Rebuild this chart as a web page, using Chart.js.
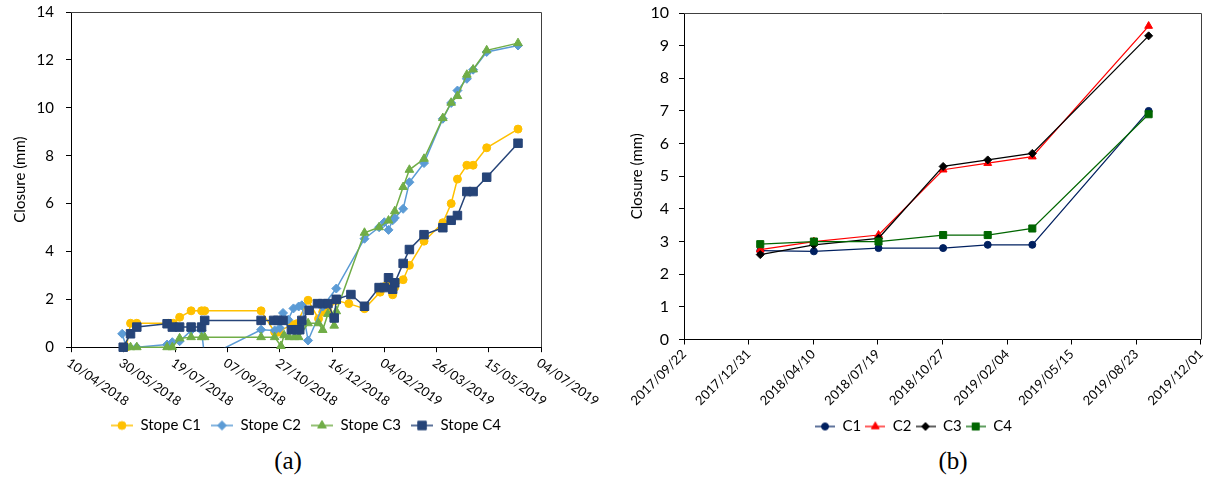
<!DOCTYPE html>
<html><head><meta charset="utf-8">
<script src="https://cdn.jsdelivr.net/npm/chart.js@4.4.1/dist/chart.umd.min.js"></script>
<style>
html,body{margin:0;padding:0;background:#fff;width:1214px;height:484px;overflow:hidden;}
#ca{position:absolute;left:0;top:0;}
#cb{position:absolute;left:607px;top:0;}
.cap{position:absolute;top:447px;font-family:'Liberation Serif','Times New Roman',serif;font-size:25px;color:#000;width:100px;text-align:center;}
</style></head><body>
<canvas id="ca" width="600" height="443"></canvas>
<canvas id="cb" width="607" height="444"></canvas>
<div class="cap" style="left:238px">(a)</div>
<div class="cap" style="left:903px">(b)</div>
<script>
// ---------- Panel (a): days counted from 10/04/2018 ----------
const tickLabelsA = ['10/04/2018','30/05/2018','19/07/2018','07/09/2018','27/10/2018','16/12/2018','04/02/2019','26/03/2019','15/05/2019','04/07/2019'];
const seriesNamesA = ['Stope C1','Stope C2','Stope C3','Stope C4'];

const daysC1 = [53,57,63,93,98,104,115,125,128,182,195,199,211,216,227,237,241,246,254,266,281,296,301,304,308,310,318,324,338,356,364,370,379,385,398,428];
const valsC1 = [0,1.0,1.0,1.0,1.0,1.25,1.52,1.52,1.52,1.52,0.63,0.63,0.95,0.98,1.96,1.19,1.47,1.5,1.95,1.82,1.61,2.3,2.55,2.6,2.19,2.5,2.82,3.42,4.43,5.2,6.0,7.02,7.6,7.6,8.33,9.11];

const daysC2 = [49,53,63,92,97,104,115,125,128,182,195,200,203,208,213,218,221,227,241,254,281,295,300,304,308,310,318,324,338,356,364,370,379,385,398,428];
const valsC2 = [0.56,0,0,0.11,0.21,0.25,0.7,0.7,-0.45,0.73,0.7,0.8,1.43,1.15,1.62,1.7,1.75,0.28,1.7,2.45,4.53,5.01,5.22,4.9,5.3,5.4,5.78,6.89,7.69,9.54,10.2,10.72,11.21,11.59,12.33,12.6];

const daysC3 = [53,57,63,92,97,104,115,125,128,182,195,201,204,209,214,218,227,237,241,246,252,254,281,295,304,310,318,324,338,356,364,370,379,385,398,428];
const valsC3 = [0,0,0,0,0,0.37,0.42,0.42,0.42,0.42,0.42,0.05,0.5,0.42,0.42,0.42,1.0,1.0,0.72,1.39,0.9,1.5,4.78,5.01,5.29,5.68,6.69,7.41,7.87,9.57,10.21,10.49,11.38,11.6,12.4,12.7];

const daysC4 = [50,57,63,92,97,104,115,125,128,182,194,198,203,211,216,219,221,228,236,241,246,252,254,268,281,295,300,304,308,310,318,324,338,356,364,370,379,385,398,428];
const valsC4 = [0,0.56,0.84,0.98,0.84,0.84,0.84,0.84,1.12,1.12,1.12,1.12,1.12,0.73,0.73,0.73,1.12,1.54,1.82,1.82,1.82,1.22,2.0,2.2,1.71,2.49,2.49,2.9,2.42,2.69,3.5,4.08,4.7,4.99,5.3,5.5,6.5,6.5,7.1,8.52];

// ---------- Panel (b): days counted from 2017/09/22 ----------
const tickLabelsB = ['2017/09/22','2017/12/31','2018/04/10','2018/07/19','2018/10/27','2019/02/04','2019/05/15','2019/08/23','2019/12/01'];
const seriesNamesB = ['C1','C2','C3','C4'];
const daysB = [118,201,301,401,470,539,719];
const valsB1 = [2.72,2.7,2.8,2.8,2.9,2.9,7.0];
const valsB2 = [2.75,3.0,3.2,5.2,5.4,5.6,9.6];
const valsB3 = [2.6,2.9,3.1,5.3,5.5,5.7,9.3];
const valsB4 = [2.92,3.0,3.0,3.2,3.2,3.4,6.9];

Chart.defaults.font.family = 'Lato';
Chart.defaults.color = '#000';

function pts(d, v){ return d.map((x,i)=>({x:x, y:v[i]})); }

function icon(color, style, r, lw, w){
  const c = document.createElement('canvas');
  c.width = w; c.height = 14;
  const ctx = c.getContext('2d');
  ctx.strokeStyle = color; ctx.lineWidth = lw;
  ctx.beginPath(); ctx.moveTo(0,7); ctx.lineTo(w,7); ctx.stroke();
  ctx.fillStyle = color; ctx.lineWidth = 1;
  Chart.helpers.drawPoint(ctx, {pointStyle: style, radius: r, borderWidth: 1, rotation: 0}, w/2, 7);
  return c;
}

const boxPlugin = {
  id: 'box',
  beforeDatasetsDraw(chart){
    const a = chart.chartArea, ctx = chart.ctx;
    ctx.save();
    ctx.strokeStyle = '#404040'; ctx.lineWidth = 1;
    ctx.beginPath();
    ctx.moveTo(a.left, Math.round(a.top)+0.5);
    ctx.lineTo(Math.round(a.right)+0.5, Math.round(a.top)+0.5);
    ctx.lineTo(Math.round(a.right)+0.5, a.bottom);
    ctx.stroke();
    ctx.restore();
  }
};

const rotLabelsA = {
  id: 'rotLabelsA',
  afterDraw(chart){
    const s = chart.scales.x, ctx = chart.ctx;
    ctx.save();
    ctx.font = '13px Lato'; ctx.fillStyle = '#000';
    ctx.textAlign = 'left'; ctx.textBaseline = 'top';
    s.ticks.forEach((t, i) => {
      const x = s.getPixelForValue(t.value);
      ctx.save();
      ctx.translate(x + 1, s.top + 9);
      ctx.rotate(35 * Math.PI / 180);
      ctx.fillText(tickLabelsA[i], 0, 0);
      ctx.restore();
    });
    ctx.restore();
  }
};

function legendOpts(pad, psw, full){
  return {
    position: 'bottom', fullSize: full,
    labels: {
      usePointStyle: true, pointStyleWidth: psw, padding: pad,
      font: {size: 15},
      generateLabels(chart){
        return chart.data.datasets.map((ds, i) => ({
          text: ds.label, pointStyle: ds.legendIcon, datasetIndex: i,
          hidden: false, lineWidth: 0, strokeStyle: 'transparent', fillStyle: 'transparent', fontColor: '#000'
        }));
      }
    }
  };
}

// ----- Chart (a) -----
const stA = [
  {c:'#FFC000', s:'circle', r:4},
  {c:'#5B9BD5', s:'rectRot', r:4.5},
  {c:'#70AD47', s:'triangle', r:5},
  {c:'#264478', s:'rect', r:6}
];
const dataA = [pts(daysC1,valsC1), pts(daysC2,valsC2), pts(daysC3,valsC3), pts(daysC4,valsC4)];
new Chart(document.getElementById('ca'), {
  type: 'line',
  data: {
    datasets: dataA.map((d,i) => ({
      label: seriesNamesA[i], data: d,
      borderColor: stA[i].c, backgroundColor: stA[i].c,
      borderWidth: 1.5, pointStyle: stA[i].s, pointRadius: stA[i].r,
      pointBorderWidth: 1, pointBorderColor: stA[i].c, pointBackgroundColor: stA[i].c,
      tension: 0, order: 4 - i,
      clip: i === 1 ? {left:10, right:10, top:10, bottom:0} : {left:10, right:10, top:10, bottom:8},
      legendIcon: icon(stA[i].c, stA[i].s, stA[i].r, 1.5, 22)
    }))
  },
  options: {
    responsive: false, animation: false, devicePixelRatio: 1,
    layout: {padding: {left: 7, right: 59, top: 12, bottom: 0}},
    plugins: {legend: legendOpts(10, 22, false), tooltip: {enabled: false}},
    scales: {
      x: {
        type: 'linear', min: 0, max: 450,
        ticks: {stepSize: 50, display: false, autoSkip: false},
        grid: {drawOnChartArea: false, drawTicks: true, tickLength: 5, color: '#000'},
        border: {display: true, color: '#000', width: 1},
        afterFit(s){ s.height = 60.8; }
      },
      y: {
        min: 0, max: 14,
        ticks: {stepSize: 2, padding: 12, font: {size: 15}, color: '#000'},
        grid: {drawOnChartArea: false, drawTicks: true, tickLength: 5, color: '#000'},
        border: {display: true, color: '#000', width: 1},
        title: {display: true, text: 'Closure (mm)', font: {size: 15}, color: '#000'},
        afterFit(s){ s.width = 64; s.paddingTop = 0; s.paddingBottom = 0; }
      }
    }
  },
  plugins: [boxPlugin, rotLabelsA]
});

// ----- Chart (b) -----
const stB = [
  {c:'#002060', s:'circle', r:3.5},
  {c:'#FF0000', s:'triangle', r:4.5},
  {c:'#000000', s:'rectRot', r:4},
  {c:'#006600', s:'rect', r:5}
];
const dataB = [pts(daysB,valsB1), pts(daysB,valsB2), pts(daysB,valsB3), pts(daysB,valsB4)];
new Chart(document.getElementById('cb'), {
  type: 'line',
  data: {
    datasets: dataB.map((d,i) => ({
      label: seriesNamesB[i], data: d,
      borderColor: stB[i].c, backgroundColor: stB[i].c,
      borderWidth: 1.25, pointStyle: stB[i].s, pointRadius: stB[i].r,
      pointBorderWidth: 1, pointBorderColor: stB[i].c, pointBackgroundColor: stB[i].c,
      tension: 0, order: 4 - i, clip: false,
      legendIcon: icon(stB[i].c, stB[i].s, stB[i].r, 1.25, 20)
    }))
  },
  options: {
    responsive: false, animation: false, devicePixelRatio: 1,
    layout: {padding: {left: 17, right: 11, top: 13, bottom: 0}},
    plugins: {legend: legendOpts(4, 20, true), tooltip: {enabled: false}},
    scales: {
      x: {
        type: 'linear', min: 0, max: 800,
        ticks: {stepSize: 100, autoSkip: false, minRotation: 45, maxRotation: 45, padding: 2,
                font: {size: 13}, color: '#000',
                callback: (v, i) => tickLabelsB[i]},
        grid: {drawOnChartArea: false, drawTicks: true, tickLength: 5, color: '#000'},
        border: {display: true, color: '#000', width: 1},
        afterFit(s){ s.height = 75.5; }
      },
      y: {
        min: 0, max: 10,
        ticks: {stepSize: 1, padding: 10, font: {size: 16}, color: '#000'},
        grid: {drawOnChartArea: false, drawTicks: true, tickLength: 5, color: '#000'},
        border: {display: true, color: '#000', width: 1},
        title: {display: true, text: 'Closure (mm)', font: {size: 15}, color: '#000'},
        afterFit(s){ s.width = 60; s.paddingTop = 0; s.paddingBottom = 0; }
      }
    }
  },
  plugins: [boxPlugin]
});
</script>
</body></html>
